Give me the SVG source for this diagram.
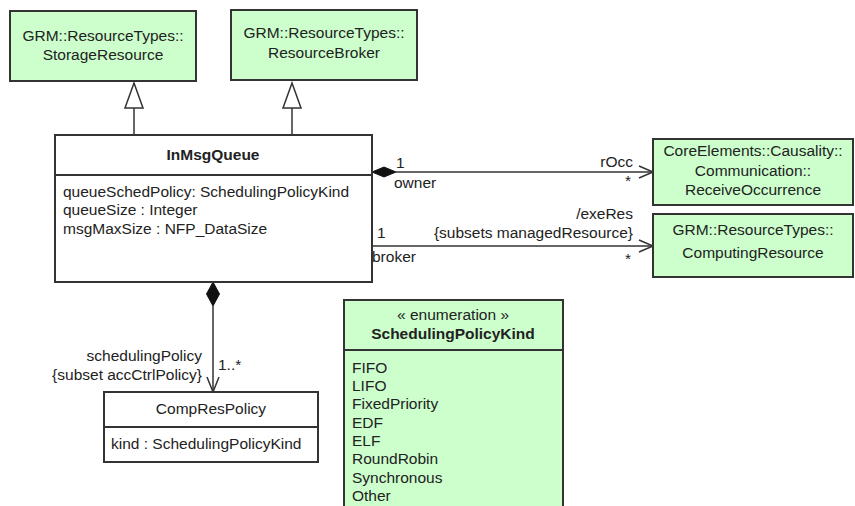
<svg xmlns="http://www.w3.org/2000/svg" width="855" height="506" viewBox="0 0 855 506">
<style>
text{font-family:"Liberation Sans",Arial,sans-serif;font-size:15.5px;fill:#222}
.c{text-anchor:middle}
.r{text-anchor:end}
.b{font-weight:bold}
.g{fill:#ccffcc;stroke:#333;stroke-width:2}
.w{fill:#fff;stroke:#333;stroke-width:2}
.ln{fill:none;stroke:#333;stroke-width:1.5}
.l2{fill:none;stroke:#333;stroke-width:2}
.gh{fill:#fff;stroke:#333;stroke-width:1.5}
.dm{fill:#111;stroke:#111;stroke-width:1}
</style>
<g id="connectors">
<line class="ln" x1="134" y1="108" x2="134" y2="135"/>
<polygon class="gh" points="134,83 125,108 143,108"/>
<line class="ln" x1="292" y1="108" x2="292" y2="135"/>
<polygon class="gh" points="292,83 283,108 301,108"/>
<line class="ln" x1="396" y1="172" x2="653" y2="172"/>
<polygon class="dm" points="372,172 384,167 396,172 384,177"/>
<polyline class="ln" points="639,166 653,172 639,178"/>
<line class="ln" x1="372" y1="246" x2="653" y2="246"/>
<polyline class="ln" points="639,240 653,246 639,252"/>
<line class="ln" x1="213" y1="306" x2="213" y2="392"/>
<polygon class="dm" points="213,282 219.5,294 213,306 206.5,294"/>
<polyline class="ln" points="207,377 213,392 219,377"/>
<text x="396" y="168">1</text>
<text x="394" y="188">owner</text>
<text class="r" x="633" y="167">rOcc</text>
<text class="r" x="631" y="186">*</text>
<text class="r" x="633" y="219">/exeRes</text>
<text class="r" x="633" y="238">{subsets managedResource}</text>
<text x="377" y="238">1</text>
<text x="372" y="262">broker</text>
<text class="r" x="631" y="264">*</text>
<text class="r" x="202" y="361">schedulingPolicy</text>
<text class="r" x="202" y="380">{subset accCtrlPolicy}</text>
<text x="218" y="370">1..*</text>
</g>
<g id="StorageResource">
<rect class="g" x="10" y="11" width="186" height="70"/>
<text class="c" x="103" y="41">GRM::ResourceTypes::</text>
<text class="c" x="103" y="60">StorageResource</text>
</g>
<g id="ResourceBroker">
<rect class="g" x="231" y="10" width="186" height="70"/>
<text class="c" x="324" y="38">GRM::ResourceTypes::</text>
<text class="c" x="324" y="58">ResourceBroker</text>
</g>
<g id="InMsgQueue">
<rect class="w" x="55" y="135" width="317" height="147"/>
<line class="l2" x1="55" y1="175" x2="372" y2="175"/>
<text class="c b" x="213" y="160">InMsgQueue</text>
<text x="63" y="197">queueSchedPolicy: SchedulingPolicyKind</text>
<text x="63" y="215">queueSize : Integer</text>
<text x="63" y="234">msgMaxSize : NFP_DataSize</text>
</g>
<g id="ReceiveOccurrence">
<rect class="g" x="653" y="139" width="200" height="66"/>
<text class="c" x="753" y="156">CoreElements::Causality::</text>
<text class="c" x="753" y="176">Communication::</text>
<text class="c" x="753" y="195">ReceiveOccurrence</text>
</g>
<g id="ComputingResource">
<rect class="g" x="653" y="214" width="200" height="63"/>
<text class="c" x="753" y="235">GRM::ResourceTypes::</text>
<text class="c" x="753" y="258">ComputingResource</text>
</g>
<g id="CompResPolicy">
<rect class="w" x="104" y="392" width="214" height="70"/>
<line class="l2" x1="104" y1="427" x2="318" y2="427"/>
<text class="c" x="211" y="414">CompResPolicy</text>
<text x="111" y="449">kind : SchedulingPolicyKind</text>
</g>
<g id="SchedulingPolicyKind">
<rect class="g" x="344" y="300" width="219" height="220"/>
<line class="l2" x1="344" y1="350" x2="563" y2="350"/>
<text class="c" x="453" y="320">« enumeration »</text>
<text class="c b" x="453" y="339">SchedulingPolicyKind</text>
<text x="352" y="373">FIFO</text>
<text x="352" y="391">LIFO</text>
<text x="352" y="409">FixedPriority</text>
<text x="352" y="428">EDF</text>
<text x="352" y="446">ELF</text>
<text x="352" y="464">RoundRobin</text>
<text x="352" y="483">Synchronous</text>
<text x="352" y="501">Other</text>
</g>
</svg>
